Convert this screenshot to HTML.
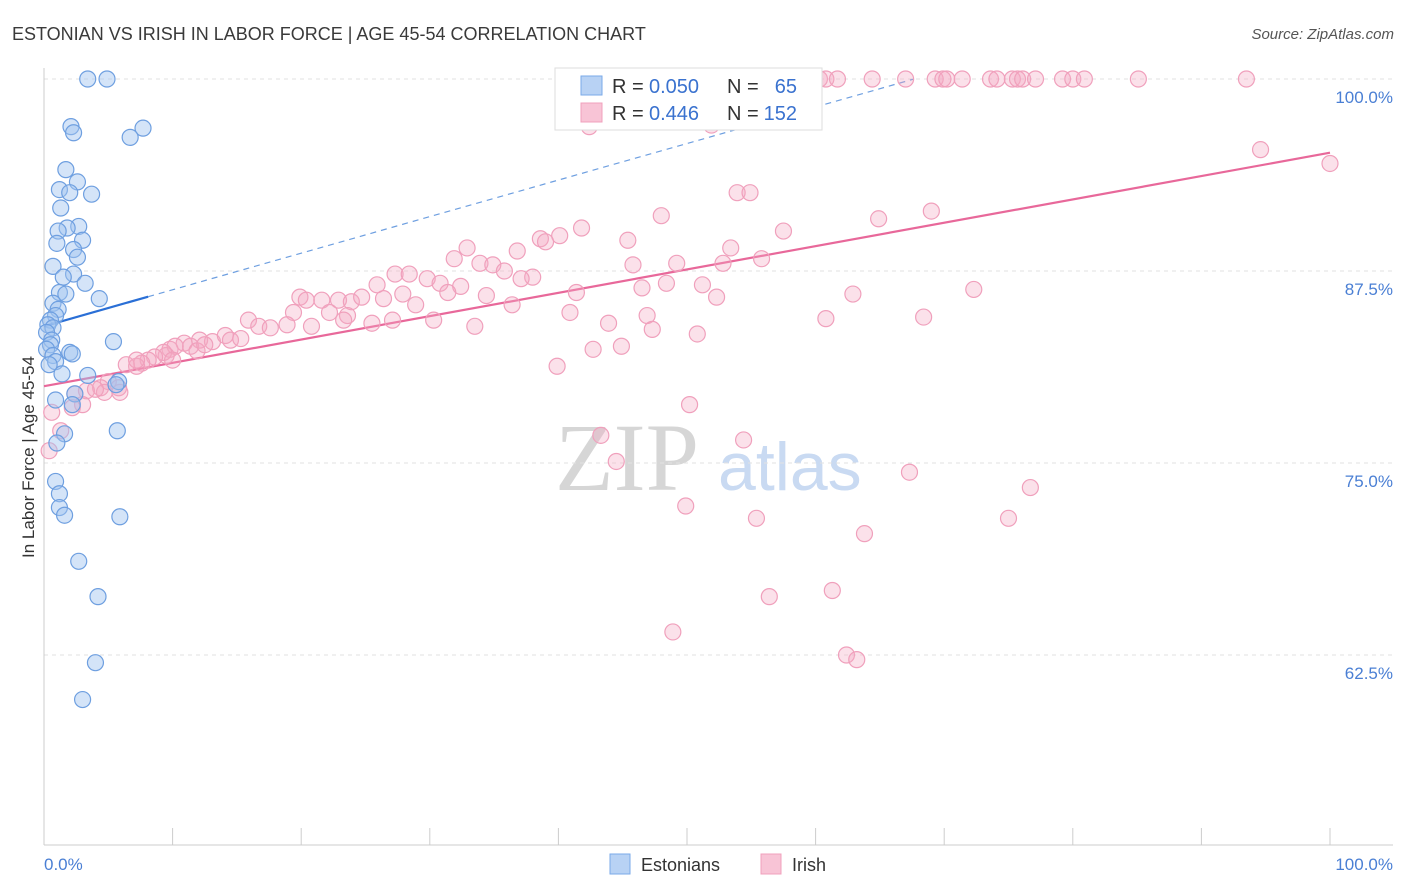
<!DOCTYPE html>
<html><head><meta charset="utf-8"><style>
body{margin:0;background:#fff;font-family:"Liberation Sans",sans-serif;}
svg{display:block}
</style></head><body>
<svg id="chart" width="1406" height="892" xmlns="http://www.w3.org/2000/svg">
<text x="12" y="40" font-size="18" fill="#3a3a3a">ESTONIAN VS IRISH IN LABOR FORCE | AGE 45-54 CORRELATION CHART</text>
<text x="1394" y="39" font-size="15" fill="#555" font-style="italic" text-anchor="end">Source: ZipAtlas.com</text>
<text x="555" y="490" font-size="96" fill="#d6d6d6" font-family="Liberation Serif,serif">ZIP</text>
<text x="718" y="490" font-size="68" fill="#c9daf2">atlas</text>
<text transform="translate(34,457) rotate(-90)" font-size="17" fill="#333" text-anchor="middle">In Labor Force | Age 45-54</text>
<g id="grid"></g>
<g id="axes"></g>
<g id="lines"></g>
<g id="pts"></g>
<g>
<rect x="555" y="68" width="267" height="62" fill="#fff" stroke="#ddd"/>
<rect x="581" y="76" width="21" height="19" fill="#b8d2f4" stroke="#7aaae8"/>
<rect x="581" y="103" width="21" height="19" fill="#f8c4d6" stroke="#f0a0bc"/>
<text x="612" y="93" font-size="20" fill="#333">R =</text>
<text x="649" y="93" font-size="20" fill="#3a72cf">0.050</text>
<text x="727" y="93" font-size="20" fill="#333">N =</text>
<text x="797" y="93" font-size="20" fill="#3a72cf" text-anchor="end">65</text>
<text x="612" y="120" font-size="20" fill="#333">R =</text>
<text x="649" y="120" font-size="20" fill="#3a72cf">0.446</text>
<text x="727" y="120" font-size="20" fill="#333">N =</text>
<text x="797" y="120" font-size="20" fill="#3a72cf" text-anchor="end">152</text>
</g>
<g>
<rect x="610" y="854" width="20" height="20" fill="#b8d2f4" stroke="#7aaae8"/>
<text x="641" y="871" font-size="18" fill="#333">Estonians</text>
<rect x="761" y="854" width="20" height="20" fill="#f8c4d6" stroke="#f0a0bc"/>
<text x="792" y="871" font-size="18" fill="#333">Irish</text>
</g>
</svg>
<script>
const yTicks=[100,87.5,75,62.5];
const yTickLabels=["100.0%","87.5%","75.0%","62.5%"];
const xTickLabels=["0.0%","100.0%"];
const blueX=[3.4,4.9,2.1,2.3,7.7,6.7,1.7,2.6,1.2,2.0,3.7,1.3,2.7,1.8,1.1,3.0,1.0,2.3,2.6,0.7,2.3,1.5,3.2,1.2,1.7,4.3,0.7,1.1,0.9,0.5,0.3,0.7,0.2,0.6,5.4,0.5,0.2,2.0,2.2,0.7,0.9,0.4,1.4,3.4,5.8,5.6,2.4,0.9,2.2,5.7,1.6,1.0,0.9,1.2,1.2,1.6,5.9,2.7,4.2,4.0,3.0];
const blueY=[100,100,96.9,96.5,96.8,96.2,94.1,93.3,92.8,92.6,92.5,91.6,90.4,90.3,90.1,89.5,89.3,88.9,88.4,87.8,87.3,87.1,86.7,86.1,86.0,85.7,85.4,85.0,84.6,84.3,84.0,83.8,83.5,83.0,82.9,82.7,82.4,82.2,82.1,82.0,81.6,81.4,80.8,80.7,80.3,80.1,79.5,79.1,78.8,77.1,76.9,76.3,73.8,73.0,72.1,71.6,71.5,68.6,66.3,62.0,59.6];
const pinkX=[58.8,59.4,60.3,60.8,61.7,64.4,67.0,69.3,69.9,70.2,71.4,73.6,74.1,75.3,75.7,76.1,77.1,79.2,80.0,80.9,85.1,93.5,59.7,42.4,51.9,94.6,100,53.9,54.9,48.0,64.9,69.0,41.8,57.5,38.6,40.1,39.0,45.4,53.4,32.9,31.9,36.8,33.9,34.9,35.8,38.0,37.1,45.8,49.2,52.8,55.8,27.3,28.4,29.8,25.9,30.8,32.4,31.4,34.4,41.4,46.5,48.4,51.2,52.3,62.9,72.3,19.9,20.4,21.6,22.9,23.9,24.7,26.4,27.9,22.2,23.6,28.9,36.4,40.9,30.3,19.4,23.3,25.5,27.1,15.9,16.7,18.9,20.8,17.6,33.5,43.9,46.9,47.3,50.8,60.8,68.4,42.7,44.9,39.9,12.1,13.1,14.1,14.5,15.3,10.9,11.4,11.9,12.5,9.8,10.2,9.5,9.3,8.6,8.1,7.6,7.2,6.4,7.2,10.0,5.0,5.8,4.4,4.7,5.9,3.3,4.0,2.4,3.0,2.2,0.6,1.3,0.4,50.2,43.3,54.4,44.5,49.9,55.4,67.3,76.7,75.0,63.8,56.4,61.3,48.9,62.4,63.2];
const pinkY=[100,100,100,100,100,100,100,100,100,100,100,100,100,100,100,100,100,100,100,100,100,100,98.8,96.9,97.0,95.4,94.5,92.6,92.6,91.1,90.9,91.4,90.3,90.1,89.6,89.8,89.4,89.5,89.0,89.0,88.3,88.8,88.0,87.9,87.5,87.1,87.0,87.9,88.0,88.0,88.3,87.3,87.3,87.0,86.6,86.7,86.5,86.1,85.9,86.1,86.4,86.7,86.6,85.8,86.0,86.3,85.8,85.6,85.6,85.6,85.5,85.8,85.7,86.0,84.8,84.6,85.3,85.3,84.8,84.3,84.8,84.3,84.1,84.3,84.3,83.9,84.0,83.9,83.8,83.9,84.1,84.6,83.7,83.4,84.4,84.5,82.4,82.6,81.3,83.0,82.9,83.3,83.0,83.1,82.8,82.6,82.3,82.7,82.4,82.6,82.0,82.2,81.9,81.7,81.5,81.3,81.4,81.7,81.7,80.3,79.9,79.9,79.6,79.6,79.7,79.8,79.5,78.8,78.6,78.3,77.1,75.8,78.8,76.8,76.5,75.1,72.2,71.4,74.4,73.4,71.4,70.4,66.3,66.7,64.0,62.5,62.2];
const blueTrend=[83.9,0.238];
const pinkTrend=[80.0,0.152];

const NS="http://www.w3.org/2000/svg";
const X=v=>44+v*12.86;
const Y=v=>79+(100-v)*15.36;
function mk(parent,tag,attrs){const e=document.createElementNS(NS,tag);for(const k in attrs)e.setAttribute(k,attrs[k]);document.getElementById(parent).appendChild(e);return e;}
yTicks.forEach((t,i)=>{
 const g=mk('grid','line',{x1:44,x2:1393,y1:Y(t),y2:Y(t),stroke:'#e2e2e2','stroke-dasharray':'4,4'});
 
 
 const l=mk('grid','text',{x:1393,y:Y(t)+24,'text-anchor':'end','font-size':17,fill:'#4a7fd4'});
 l.textContent=yTickLabels[i];
 
 
});
mk('axes','line',{x1:44,x2:44,y1:68,y2:845,stroke:'#ccc'});
mk('axes','line',{x1:44,x2:1393,y1:845,y2:845,stroke:'#ccc'});
for(let i=0;i<=10;i++){const t=mk('axes','line',{x1:X(i*10),x2:X(i*10),y1:828,y2:845,stroke:'#ccc'});
 
 }
const xl0=mk('axes','text',{x:44,y:870,'font-size':17,fill:'#4a7fd4'});xl0.textContent=xTickLabels[0];


const xl1=mk('axes','text',{x:1393,y:870,'font-size':17,fill:'#4a7fd4','text-anchor':'end'});xl1.textContent=xTickLabels[1];


function dot(x,y,fill,stroke,name){const c=mk('pts','circle',{cx:X(x),cy:Y(y),r:8,fill:fill,stroke:stroke,'stroke-width':1.2});
 
 }
pinkX.forEach((x,i)=>dot(x,pinkY[i],'rgba(244,170,196,0.35)','#f0a0bc','irish-point'));
blueX.forEach((x,i)=>dot(x,blueY[i],'rgba(160,196,240,0.45)','#6e9fe0','estonian-point'));
const bEnd=(100-blueTrend[0])/blueTrend[1];
const bl=mk('lines','line',{x1:X(0),y1:Y(blueTrend[0]),x2:X(8.1),y2:Y(blueTrend[0]+blueTrend[1]*8.1),stroke:'#2a6fd6','stroke-width':2.2});


const bd=mk('lines','line',{x1:X(8.1),y1:Y(blueTrend[0]+blueTrend[1]*8.1),x2:X(bEnd),y2:Y(100),stroke:'#6e9fe0','stroke-width':1.2,'stroke-dasharray':'6,5'});


const pl=mk('lines','line',{x1:X(0),y1:Y(pinkTrend[0]),x2:X(100),y2:Y(pinkTrend[0]+pinkTrend[1]*100),stroke:'#e8689a','stroke-width':2.2});


</script>
</body></html>
